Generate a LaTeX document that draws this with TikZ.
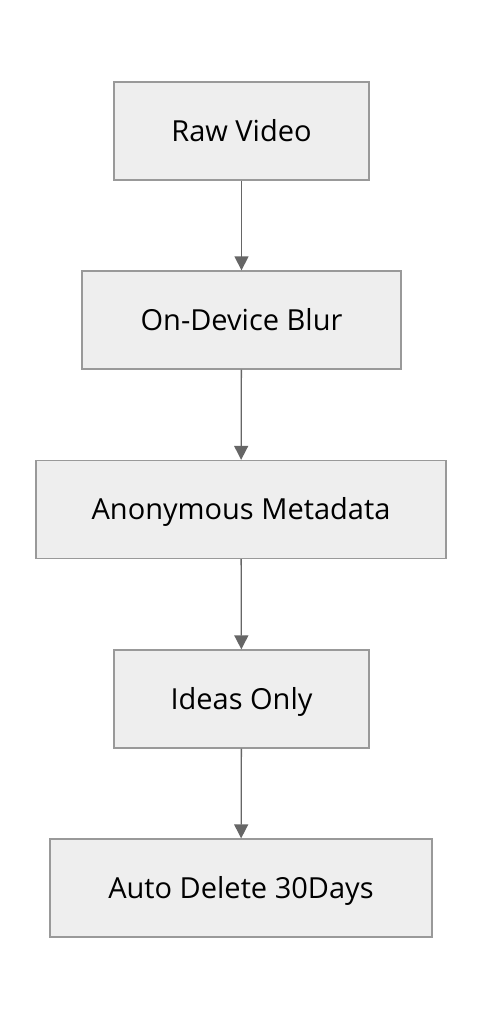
\documentclass[tikz,border=0pt]{standalone}
\usepackage{fontspec}
\setmainfont{Open Sans}
\usetikzlibrary{arrows.meta}
\definecolor{boxfill}{HTML}{EEEEEE}
\definecolor{boxline}{HTML}{999999}
\definecolor{arrowc}{HTML}{666666}
\tikzset{
  stepbox/.style={draw=boxline, fill=boxfill, line width=1.3pt, minimum height=98pt, inner sep=0pt, text height=27pt, text depth=6.3pt, font=\fontsize{29}{34}\selectfont},
  flow/.style={draw=arrowc, line width=1.3pt, -{Triangle[length=14pt,width=14pt]}}
}
\begin{document}
\begin{tikzpicture}[x=1pt,y=-1pt]
\useasboundingbox (0,0) rectangle (482,1020);
\node[stepbox, minimum width=255pt] (a) at (241.5,131) {Raw Video};
\node[stepbox, minimum width=319pt] (b) at (241.5,320) {On-Device Blur};
\node[stepbox, minimum width=410pt] (c) at (241,509.5) {Anonymous Metadata};
\node[stepbox, minimum width=255pt] (d) at (241.5,699) {Ideas Only};
\node[stepbox, minimum width=382pt] (e) at (241,888) {Auto Delete 30Days};
\draw[flow] (a) -- (b);
\draw[flow] (b) -- (c);
\draw[flow] (c) -- (d);
\draw[flow] (d) -- (e);
\end{tikzpicture}
\end{document}
